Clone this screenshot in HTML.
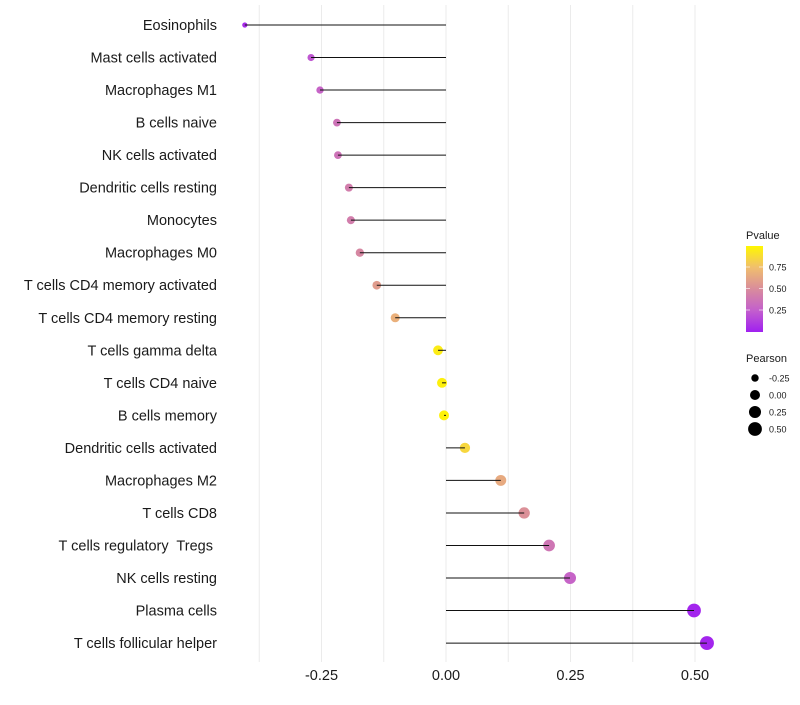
<!DOCTYPE html>
<html><head><meta charset="utf-8"><style>
body{margin:0;background:#fff;font-family:"Liberation Sans",sans-serif;}
text{white-space:pre;}
</style></head><body>
<svg id="chart" width="800" height="700" xmlns="http://www.w3.org/2000/svg"></svg>
<script>
const categories=["Eosinophils","Mast cells activated","Macrophages M1","B cells naive","NK cells activated","Dendritic cells resting","Monocytes","Macrophages M0","T cells CD4 memory activated","T cells CD4 memory resting","T cells gamma delta","T cells CD4 naive","B cells memory","Dendritic cells activated","Macrophages M2","T cells CD8","T cells regulatory  Tregs ","NK cells resting","Plasma cells","T cells follicular helper"];
const pearson=[-0.404,-0.271,-0.253,-0.219,-0.217,-0.195,-0.191,-0.173,-0.139,-0.102,-0.016,-0.008,-0.004,0.038,0.110,0.157,0.207,0.249,0.498,0.524];
const pvalue=[0.05,0.22,0.28,0.36,0.36,0.42,0.42,0.47,0.58,0.68,0.95,0.97,0.98,0.86,0.65,0.52,0.38,0.28,0.02,0.02];
const xTicks=[-0.25,0,0.25,0.5];
const xTickLabels=["-0.25","0.00","0.25","0.50"];
const gridVals=[-0.375,-0.25,-0.125,0,0.125,0.25,0.375,0.5];
const legendP=[0.25,0.5,0.75];
const legendR=[-0.25,0,0.25,0.5];

const NS="http://www.w3.org/2000/svg";
const svg=document.getElementById('chart');
function el(t,a,p){const e=document.createElementNS(NS,t);for(const k in a)e.setAttribute(k,a[k]);(p||svg).appendChild(e);return e;}
const x=v=>446+v*498;
const y=i=>25+i*32.53;
const r=v=>Math.max(1.6,Math.sqrt(Math.max(0,25+45*v)));
function lerp(a,b,t){return a.map((c,i)=>Math.round(c+(b[i]-c)*t));}
const stops=[[0,[160,32,240]],[0.25,[195,95,205]],[0.5,[217,140,156]],[0.75,[240,190,110]],[1,[255,247,0]]];
function col(p){for(let i=0;i<stops.length-1;i++){if(p<=stops[i+1][0]){const t=(p-stops[i][0])/(stops[i+1][0]-stops[i][0]);return 'rgb('+lerp(stops[i][1],stops[i+1][1],t).join(',')+')';}}return 'rgb(255,247,0)';}

gridVals.forEach(g=>{const l=el('line',{x1:x(g),x2:x(g),y1:5,y2:662,stroke:'#ebebeb','stroke-width':1});
});

categories.forEach((c,i)=>{
 const t=el('text',{x:217,y:y(i)+5,'text-anchor':'end','font-size':14.5,fill:'#1a1a1a'});t.textContent=c;
 
 const d=el('circle',{cx:x(pearson[i]),cy:y(i),r:r(pearson[i]),fill:col(pvalue[i])});
 
 const s=el('line',{x1:x(0),x2:x(pearson[i]),y1:y(i),y2:y(i),stroke:'#111','stroke-width':1});
 
});
xTicks.forEach((v,i)=>{const t=el('text',{x:x(v),y:680,'text-anchor':'middle','font-size':14.5,fill:'#1a1a1a'});t.textContent=xTickLabels[i];
 });

const lt=el('text',{x:746,y:239,'font-size':11,fill:'#1a1a1a'});lt.textContent='Pvalue';

const defs=el('defs',{});const gr=el('linearGradient',{id:'g',x1:0,y1:1,x2:0,y2:0},defs);
stops.forEach(s=>el('stop',{offset:s[0],'stop-color':col(s[0])},gr));
const bar=el('rect',{x:746,y:246,width:17,height:86,fill:'url(#g)'});

legendP.forEach(p=>{const yy=331.5-p*86;
 el('line',{x1:746,x2:750,y1:yy,y2:yy,stroke:'#fff','stroke-opacity':0.6});el('line',{x1:759,x2:763,y1:yy,y2:yy,stroke:'#fff','stroke-opacity':0.6});
 const t=el('text',{x:769,y:yy+3.5,'font-size':9,fill:'#1a1a1a'});t.textContent=p.toFixed(2);
 });
const pt=el('text',{x:746,y:362,'font-size':11,fill:'#1a1a1a'});pt.textContent='Pearson';

legendR.forEach((v,i)=>{const yy=378+i*17;
 const c=el('circle',{cx:755,cy:yy,r:r(v),fill:'#000'});
 
 const t=el('text',{x:769,y:yy+3.5,'font-size':9,fill:'#1a1a1a'});t.textContent=v.toFixed(2);
 });
</script>
</body></html>
